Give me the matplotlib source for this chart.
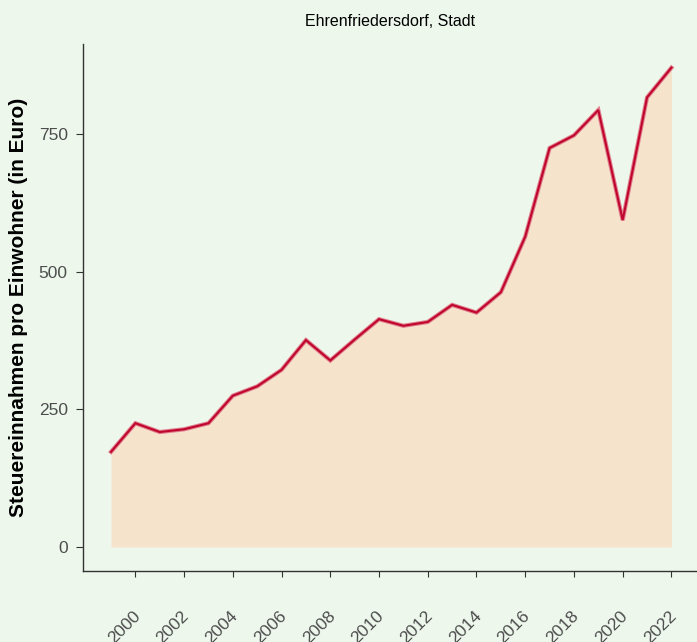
import numpy as np
import matplotlib.pyplot as plt
import matplotlib.transforms as mtrans

plt.rcParams['font.family'] = ['Liberation Sans', 'DejaVu Sans']

# Daten: Steuereinnahmen pro Einwohner
jahre = np.arange(1999, 2023)
werte = [173, 225, 209, 214, 225, 275, 292, 322, 376, 339,
         377, 414, 402, 409, 440, 426, 463, 564, 725, 748,
         794, 594, 817, 871]
titel = "Ehrenfriedersdorf, Stadt"
ylabel = "Steuereinnahmen pro Einwohner (in Euro)"
xticks = list(range(2000, 2023, 2))
yticks = [0, 250, 500, 750]

bg = "#EDF7EC"
fig = plt.figure(figsize=(6.97, 6.42), dpi=100, facecolor=bg)
ax = fig.add_axes([83 / 697, 1 - 571 / 642, 1 - 83 / 697, (571 - 44) / 642])
ax.set_facecolor(bg)

ax.fill_between(jahre, 0, werte, color="#F5E3CB", lw=0)
ax.plot(jahre, werte, color="#E07C8C", lw=3.0, solid_joinstyle="miter")
ax.plot(jahre, werte, color="#C0062C", lw=1.5, solid_joinstyle="miter")

ax.set_xlim(1997.85, 2023.05)
ax.set_ylim(-43.5, 914)
ax.set_xticks(xticks)
ax.set_yticks(yticks)
ax.set_xticklabels([str(x) for x in xticks], rotation=45, ha="right",
                   va="top", rotation_mode="anchor")
ax.tick_params(axis="x", pad=23, length=4, color="#333333",
               labelcolor="#4D4D4D", labelsize=12.5)
ax.tick_params(axis="y", length=5, pad=6, color="#333333",
               labelcolor="#4D4D4D", labelsize=12.5)

# Beschriftungen leicht verschieben
off = mtrans.ScaledTranslation(-2 / 72, 0, fig.dpi_scale_trans)
for lab in ax.get_xticklabels():
    lab.set_transform(lab.get_transform() + off)

for s in ["top", "right"]:
    ax.spines[s].set_visible(False)
for s in ["left", "bottom"]:
    ax.spines[s].set_color("#333333")
    ax.spines[s].set_linewidth(1.0)

ax.set_ylabel(ylabel, fontsize=15, fontweight="bold", labelpad=8)
fig.text(390 / 697, 1 - 22 / 642, titel, ha="center", va="center", fontsize=11.5)

fig.savefig("out.png", dpi=100, facecolor=bg)
